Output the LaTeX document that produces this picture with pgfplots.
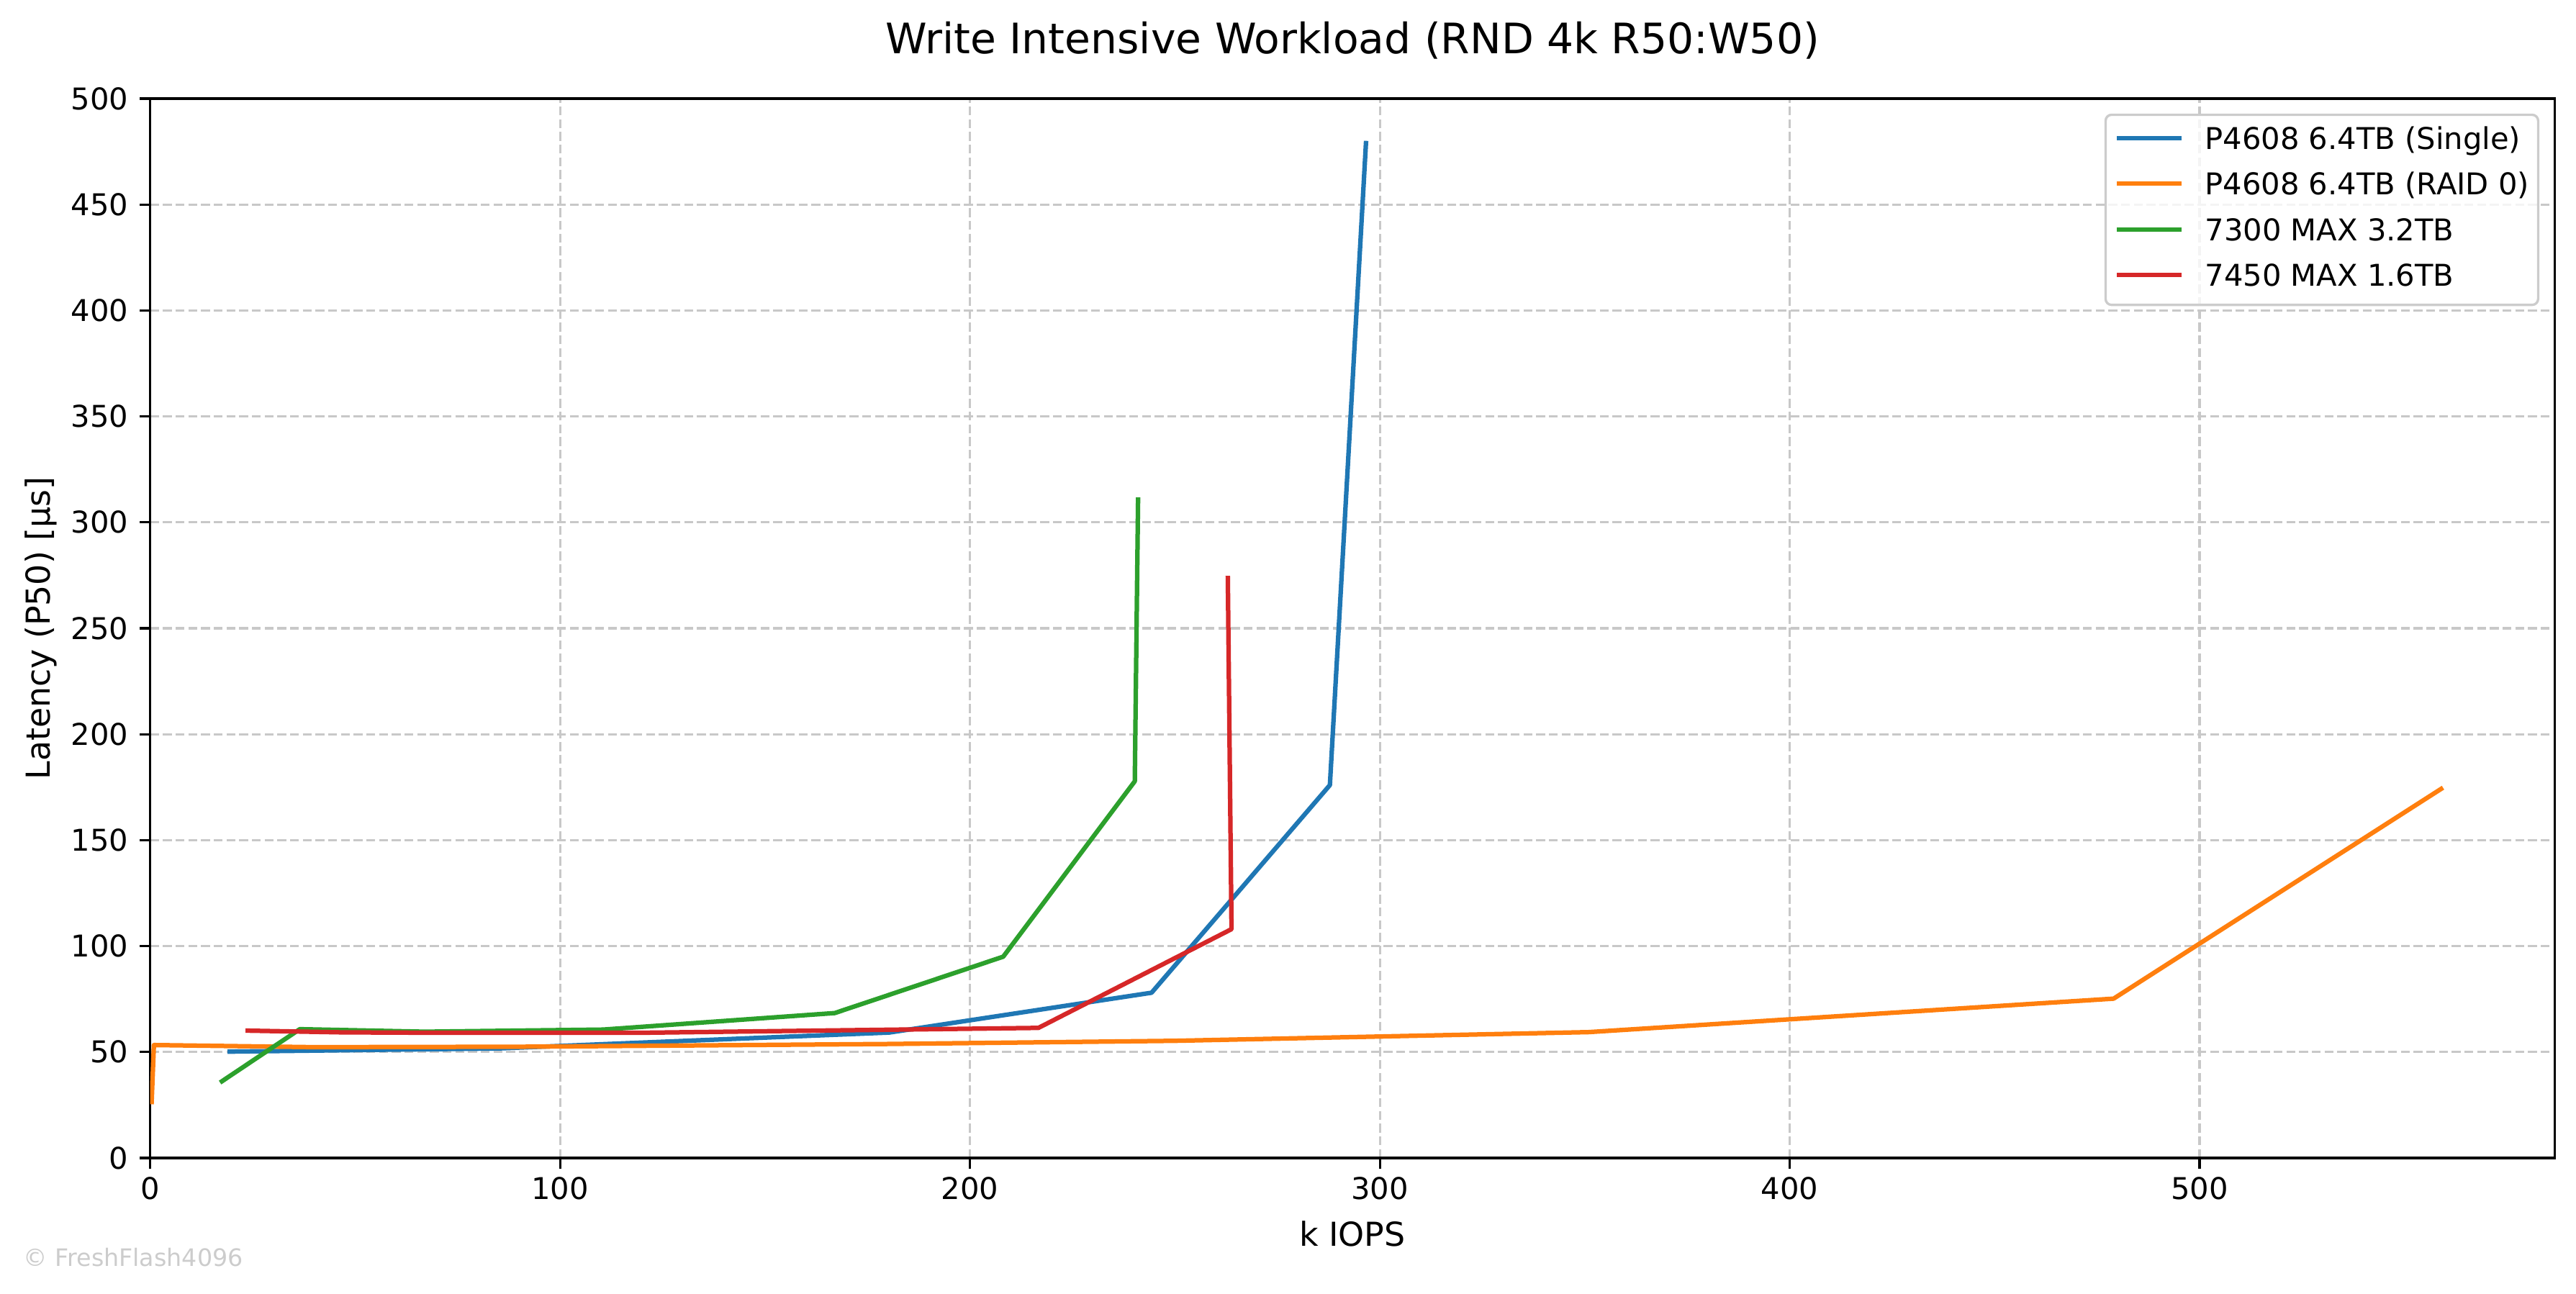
\documentclass[border=0pt]{standalone}
\usepackage{fontspec}
\setmainfont{DejaVu Sans}
\usepackage{pgfplots}
\pgfplotsset{compat=1.18}
\definecolor{cblue}{HTML}{1F77B4}
\definecolor{corange}{HTML}{FF7F0E}
\definecolor{cgreen}{HTML}{2CA02C}
\definecolor{cred}{HTML}{D62728}
\definecolor{gridc}{HTML}{C8C8C8}
\definecolor{legc}{HTML}{CCCCCC}
\definecolor{wmc}{HTML}{CCCCCC}
\begin{document}
\begin{tikzpicture}[font=\fontsize{10}{12}\selectfont]
\useasboundingbox (-50.09pt,-45.12pt) rectangle (808.87pt,386.16pt);
\begin{axis}[
  at={(0pt,0pt)}, anchor=south west,
  scale only axis, width=801.74pt, height=353.28pt,
  xmin=0, xmax=586.6, ymin=0, ymax=500,
  xtick={0,100,200,300,400,500},
  ytick={0,50,100,150,200,250,300,350,400,450,500},
  tick pos=left,
  tick align=outside,
  major tick length=3.5pt,
  every tick/.style={black, line width=0.8pt},
  axis line style={black, line width=0.8pt},
  grid=major,
  major grid style={gridc, line width=0.8pt, dash pattern=on 2.96pt off 1.28pt},
  /pgf/number format/assume math mode=true,
  xticklabel style={inner sep=0pt, anchor=north, yshift=-2.6pt, font=\fontsize{10}{12}\selectfont},
  yticklabel style={inner sep=0pt, anchor=east, xshift=-3.6pt, font=\fontsize{10}{12}\selectfont},
  every axis plot/.append style={line width=1.5pt, line join=round, line cap=rect},
  legend cell align=left,
  legend style={at={(1,1)}, anchor=north east, xshift=-5.1pt, yshift=-5.0pt,
    draw=legc, line width=0.8pt, rounded corners=2pt,
    fill=white, fill opacity=0.8, draw opacity=1, text opacity=1,
    inner xsep=3pt, inner ysep=3.9pt, row sep=5.2pt, column sep=0pt,
    nodes={inner sep=0pt, anchor=base west, text height=7.6pt, text depth=2.4pt},
    font=\fontsize{10}{12}\selectfont},
  legend image code/.code={\draw[#1, line width=1.5pt, line cap=butt] (0pt,3.7pt) -- (21.7pt,3.7pt); \path[draw=none, fill=none] (0pt,3.7pt) -- (29.4pt,3.7pt);},
]
\addplot[cblue] coordinates {
  (19.4,50.2) (45,50.8) (85,51.7) (180.3,59.2) (244.3,78.0) (287.8,176.0) (296.6,479.0)
};
\addlegendentry{P4608 6.4TB (Single)}
\addplot[corange] coordinates {
  (0.35,26.4) (0.9,53.3) (40,52.3) (90,52.5) (180,53.8) (250,55.3) (350.9,59.4) (479,75.2) (558.9,174.2)
};
\addlegendentry{P4608 6.4TB (RAID 0)}
\addplot[cgreen] coordinates {
  (17.5,36.2) (36.5,60.8) (67,59.6) (110.5,60.6) (167,68.4) (208.1,95.0) (240.2,177.8) (241.0,310.7)
};
\addlegendentry{7300 MAX 3.2TB}
\addplot[cred] coordinates {
  (23.8,60.1) (46.5,59.3) (68,59.1) (120,59.1) (216.7,61.4) (263.8,108.0) (262.9,273.7)
};
\addlegendentry{7450 MAX 1.6TB}
\end{axis}
\node[anchor=base, inner sep=0pt, font=\fontsize{14}{17}\selectfont] at (400.87pt,368.2pt) {Write Intensive Workload (RND 4k R50:W50)};
\node[anchor=base, inner sep=0pt, font=\fontsize{11}{13}\selectfont] at (400.87pt,-29.4pt) {k IOPS};
\node[anchor=base, rotate=90, inner sep=0pt, font=\fontsize{11}{13}\selectfont] at (-33.4pt,176.64pt) {Latency (P50) [µs]};
\node[anchor=base west, inner sep=0pt, text=wmc, font=\fontsize{8}{10}\selectfont] at (-42.4pt,-36pt) {© FreshFlash4096};
\end{tikzpicture}
\end{document}
